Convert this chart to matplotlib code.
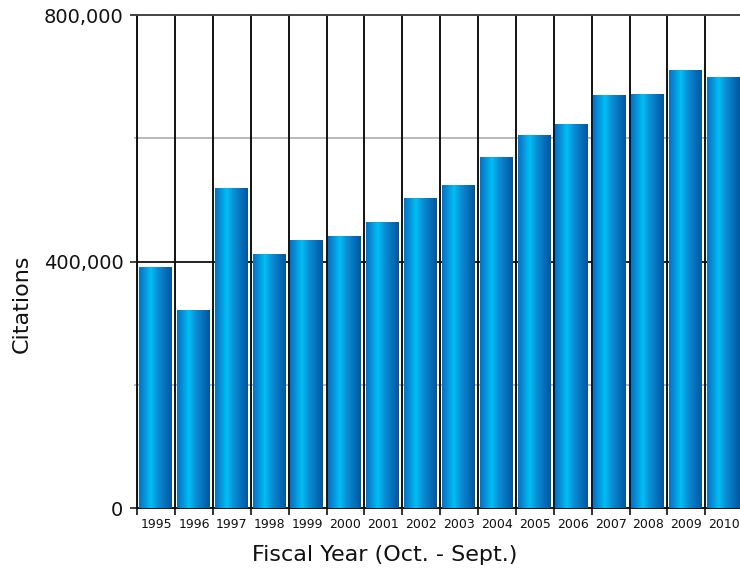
import numpy as np
import matplotlib
matplotlib.use("Agg")
import matplotlib.pyplot as plt
from matplotlib.colors import LinearSegmentedColormap
from matplotlib.ticker import FixedLocator, FuncFormatter

# Annual citations by fiscal year
years = ["1995", "1996", "1997", "1998", "1999", "2000", "2001", "2002",
         "2003", "2004", "2005", "2006", "2007", "2008", "2009", "2010"]
citations = [391000, 322000, 520000, 412000, 435000, 442000, 464000, 503000,
             524000, 570000, 605000, 623000, 670000, 672000, 711000, 700000]

y_major = [0, 400000, 800000]
y_minor = [200000, 600000]

plt.rcParams["font.family"] = ["DejaVu Sans"]

fig = plt.figure(figsize=(7.4, 5.7), dpi=100)
ax = fig.add_axes([137.3 / 740, 1 - 508.3 / 570, 605.8 / 740, (508.3 - 15.1) / 570])

x = np.arange(len(years))
bars = ax.bar(x - 0.02, citations, width=0.87, color="none", edgecolor="none", zorder=3)

# Horizontal cylinder-style shading for each bar
shade = LinearSegmentedColormap.from_list(
    "barshade",
    [(0.0, "#0b6fbf"), (0.15, "#0a8cd6"), (0.36, "#00bff4"),
     (0.58, "#0a8dd5"), (1.0, "#0056a2")])
grad = np.linspace(0, 1, 256).reshape(1, -1)
for p in bars.patches:
    x0, y0 = p.get_x(), p.get_y()
    w, h = p.get_width(), p.get_height()
    im = ax.imshow(grad, cmap=shade, extent=[x0, x0 + w, y0, y0 + h],
                   aspect="auto", zorder=3, interpolation="bilinear")
    im.set_clip_path(p)

ax.set_xlim(-0.5, len(years) - 0.5)
ax.set_ylim(0, 800000)

# Gridlines: category separators and value lines
for b in np.arange(len(years) + 1) - 0.5:
    ax.axvline(b, color="#111111", lw=1.4, zorder=2)
ax.axhline(400000, color="#222222", lw=1.4, zorder=1)
for v in y_minor:
    ax.axhline(v, color="#b4b4b4", lw=1.3, zorder=1)

# Y axis ticks
ax.yaxis.set_major_locator(FixedLocator(y_major))
ax.yaxis.set_minor_locator(FixedLocator(y_minor))
ax.yaxis.set_major_formatter(FuncFormatter(lambda v, _: f"{int(v):,}"))
ax.tick_params(axis="y", which="major", length=5, width=1.2, color="#222222",
               labelsize=14, pad=5, labelcolor="#111111")
ax.tick_params(axis="y", which="minor", length=2.5, width=1.2, color="#b4b4b4")

# X axis: labels centered in categories, ticks at boundaries
ax.set_xticks(x)
ax.set_xticklabels(years)
ax.xaxis.set_minor_locator(FixedLocator(np.arange(len(years) + 1) - 0.5))
ax.tick_params(axis="x", which="major", length=0, labelsize=9, pad=7,
               labelcolor="#111111")
ax.tick_params(axis="x", which="minor", length=5, width=1.2, color="#111111")

for s in ["left", "bottom"]:
    ax.spines[s].set_color("#111111")
    ax.spines[s].set_linewidth(1.4)
ax.spines["top"].set_color("#444444")
ax.spines["top"].set_linewidth(1.4)
ax.spines["right"].set_visible(False)

ax.set_xlabel("Fiscal Year (Oct. - Sept.)", fontsize=16, color="#111111")
ax.set_ylabel("Citations", fontsize=16, color="#111111")
ax.xaxis.set_label_coords((385 - 137.3) / 605.8, (508.3 - 555) / 493.2)
ax.yaxis.set_label_coords((22 - 137.3) / 605.8, (508.3 - 304) / 493.2)
ax.xaxis.label.set_va("center")
ax.yaxis.label.set_va("center")

fig.savefig("out.png", dpi=100)
